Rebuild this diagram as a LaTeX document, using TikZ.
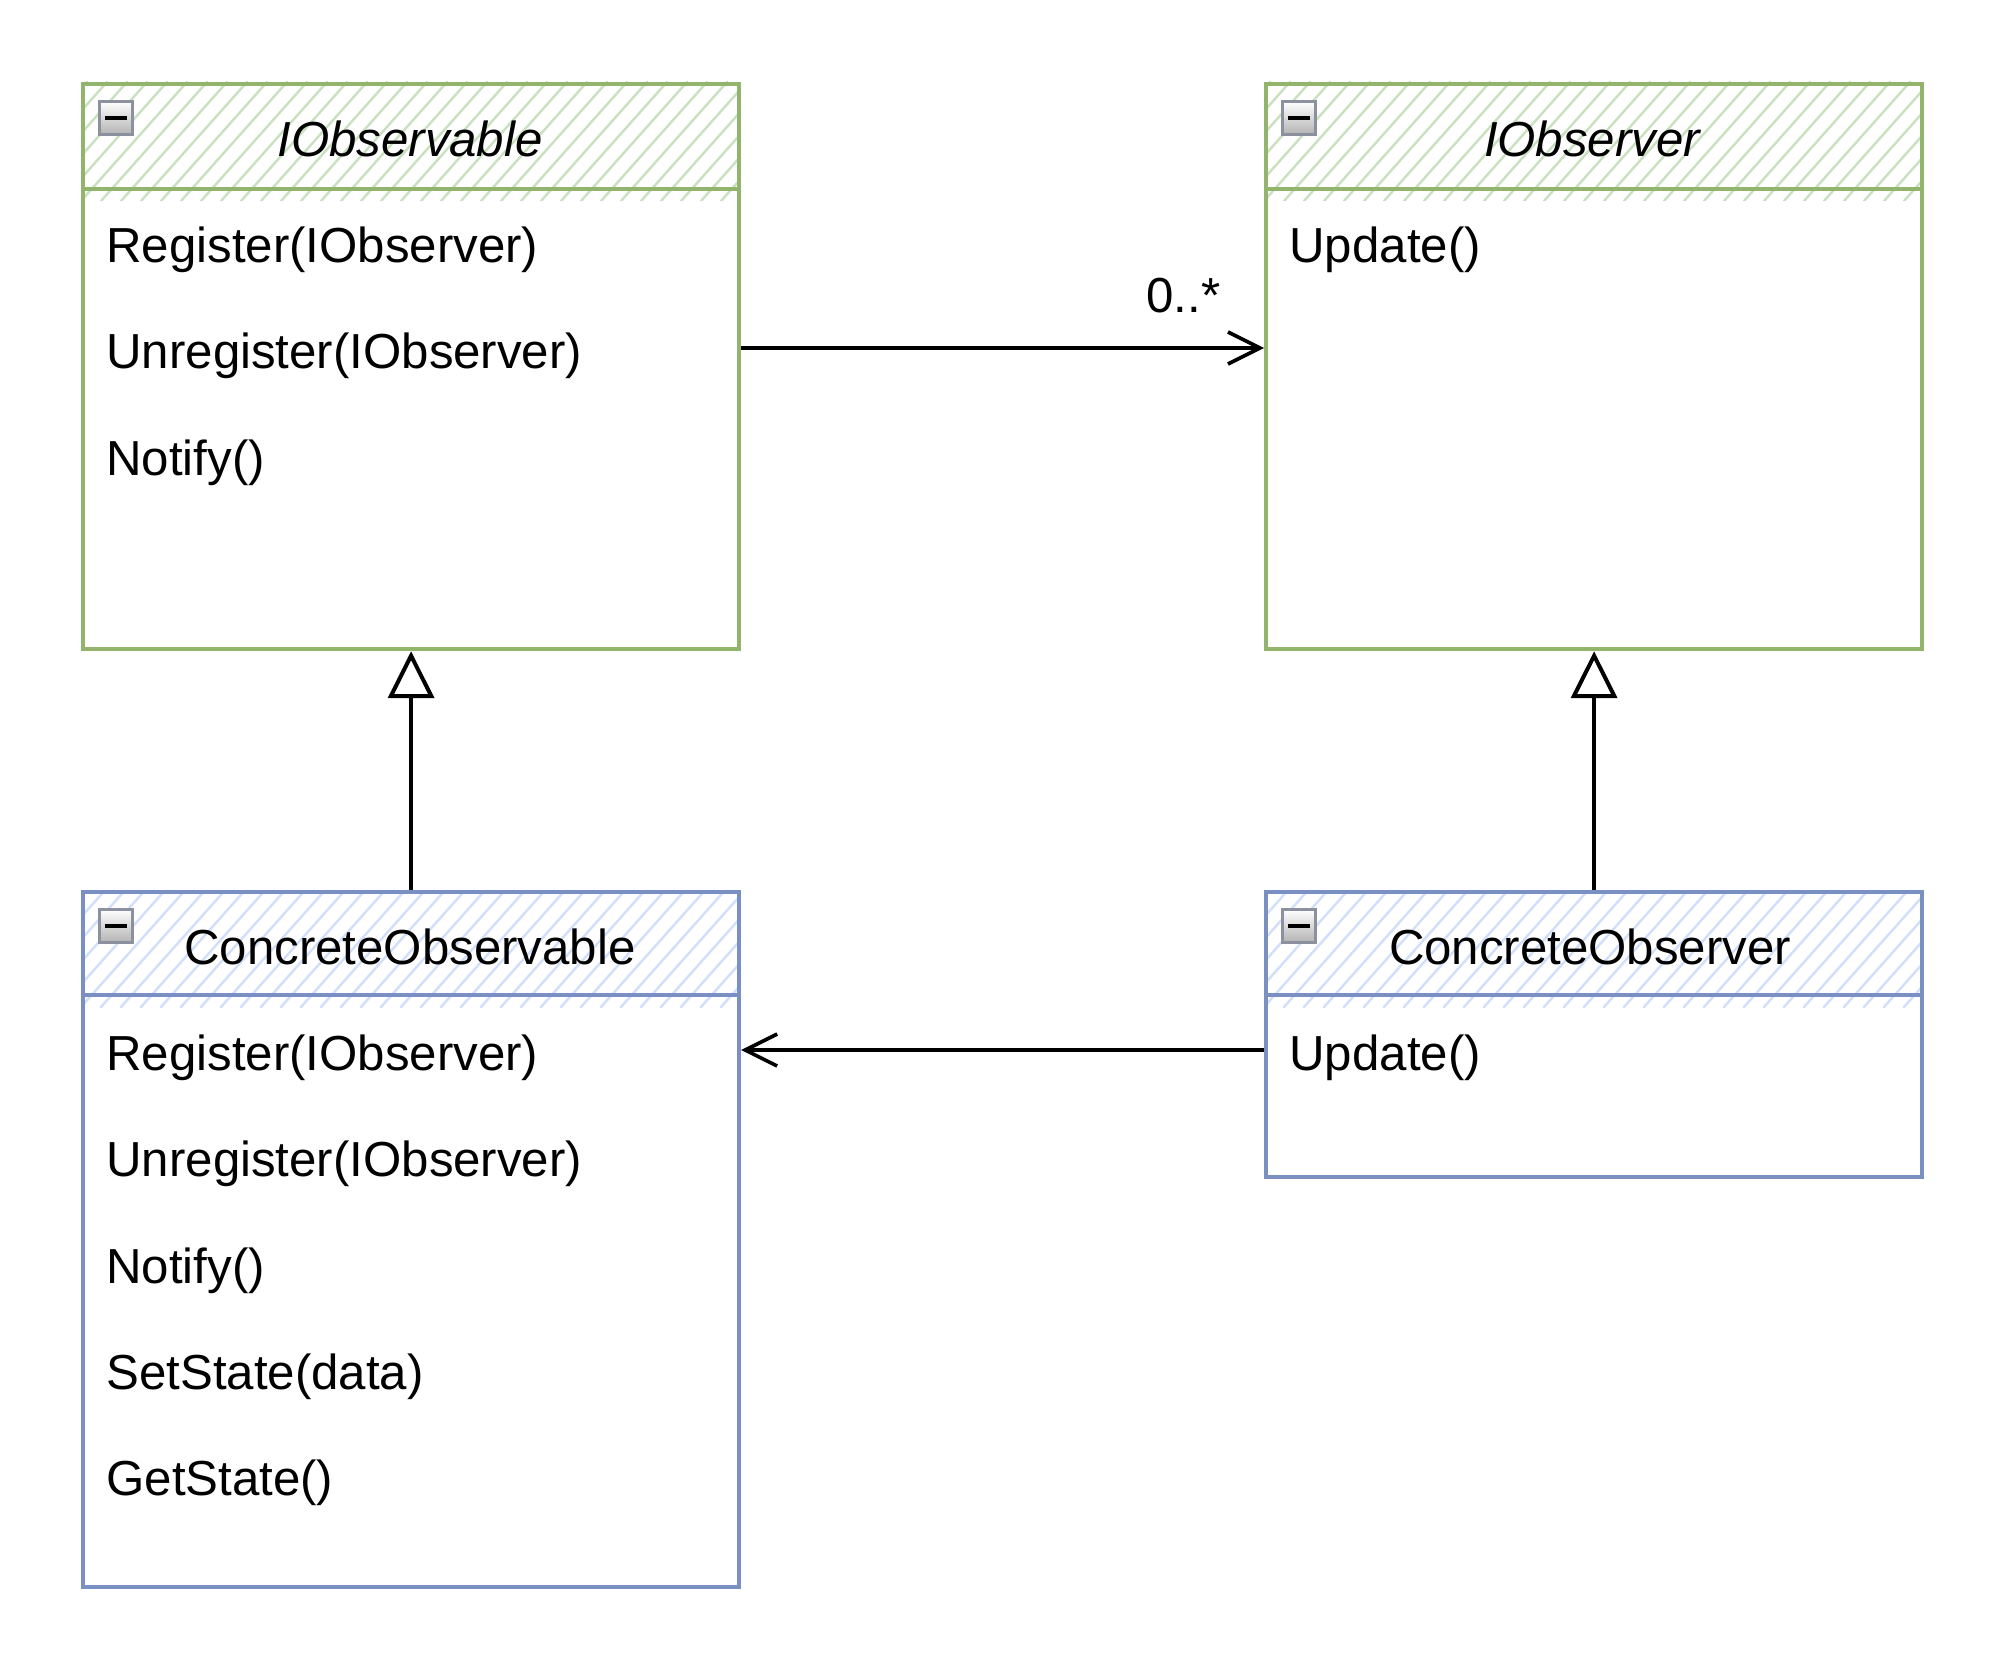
\documentclass[tikz,border=0pt]{standalone}
\usepackage{fontspec}
\setmainfont{Liberation Sans}
\usetikzlibrary{arrows.meta,calc}
\definecolor{gstroke}{RGB}{146,180,108}
\definecolor{ghatch}{RGB}{202,225,192}
\definecolor{bstroke}{RGB}{122,144,194}
\definecolor{bhatch}{RGB}{210,223,250}
\definecolor{iconborder}{RGB}{140,145,160}
\tikzset{
  classbox/.style={draw, line width=2.1pt, minimum width=328pt, inner sep=0pt, anchor=north west},
  member/.style={anchor=base west, inner sep=0pt, font=\fontsize{24.6}{29}\selectfont},
  title/.style={anchor=base, inner sep=0pt, font=\fontsize{24.6}{29}\selectfont},
  icon/.style={draw=iconborder, line width=1.8pt, top color=white, bottom color=black!30,
    minimum size=16.5pt, inner sep=0pt, font=\fontsize{10}{10}\selectfont},
  assoc/.style={line width=2.3pt, -{Straight Barb[length=16pt,width=16pt,line width=1.8pt]}},
  inherit/.style={line width=2.3pt, -{Triangle[open,length=23.5pt,width=23pt,line width=2pt,fill=white]}},
  hatchline/.style={line width=1.2pt, line cap=round},
  sepline/.style={line width=2.1pt},
}
\newcommand{\hatchhead}[5]{% x1 y1 x2 y2 color
  \begin{scope}
    \clip (#1,#2) rectangle (#3,#4+12);
    \foreach \hx in {-120,-100,...,700} {
      \draw[hatchline, #5] ({#1+\hx},#4+12) -- ++(106,-119);
    }
  \end{scope}
}
\begin{document}
\begin{tikzpicture}[x=0.5pt,y=-0.5pt]
\useasboundingbox (0,0) rectangle (2016,1674);
\fill[white] (0,0) rectangle (2016,1674);

% header hatches
\hatchhead{81}{82}{738}{189}{ghatch}
\hatchhead{1264}{82}{1920}{189}{ghatch}
\hatchhead{81}{890}{738}{995}{bhatch}
\hatchhead{1264}{890}{1920}{995}{bhatch}

% white body below header ticks already handled by clip; class boxes
\node[classbox, draw=gstroke, minimum height=282.5pt] (obs) at (81,82) {};
\node[classbox, draw=gstroke, minimum height=282.5pt] (obsr) at (1264,82) {};
\node[classbox, draw=bstroke, minimum height=347.5pt] (cobs) at (81,890) {};
\node[classbox, draw=bstroke, minimum height=142.5pt] (cobsr) at (1264,890) {};

% header separators
\draw[gstroke, sepline] (obs.west |- 0,189) -- (obs.east |- 0,189);
\draw[gstroke, sepline] (obsr.west |- 0,189) -- (obsr.east |- 0,189);
\draw[bstroke, sepline] (cobs.west |- 0,995) -- (cobs.east |- 0,995);
\draw[bstroke, sepline] (cobsr.west |- 0,995) -- (cobsr.east |- 0,995);

% collapse icons
\node[icon] (i1) at (116,118) {\rule{11pt}{2.4pt}};
\node[icon] (i2) at (1299,118) {\rule{11pt}{2.4pt}};
\node[icon] (i3) at (116,926) {\rule{11pt}{2.4pt}};
\node[icon] (i4) at (1299,926) {\rule{11pt}{2.4pt}};

% titles
\node[title] (t1) at (410,156.7) {\itshape IObservable};
\node[title] (t2) at (1592,156.7) {\itshape IObserver};
\node[title] (t3) at (410,964) {ConcreteObservable};
\node[title] (t4) at (1590,964) {ConcreteObserver};

% members
\node[member] (m1) at (106,262.7) {Register(IObserver)};
\node[member] (m2) at (106,368.3) {Unregister(IObserver)};
\node[member] (m3) at (106,475) {Notify()};
\node[member] (m4) at (1289,262.7) {Update()};

\node[member] (c1) at (106,1070) {Register(IObserver)};
\node[member] (c2) at (106,1176) {Unregister(IObserver)};
\node[member] (c3) at (106,1283) {Notify()};
\node[member] (c4) at (106,1389) {SetState(data)};
\node[member] (c5) at (106,1495) {GetState()};
\node[member] (d1) at (1289,1070) {Update()};

% connectors
\coordinate (a1) at (0,348);
\coordinate (a2) at (0,1050);
\draw[assoc] (obs.east |- a1) -- (obsr.west |- a1);
\node[member] (mult) at (1146,312.7) {0..*};
\draw[assoc] (cobsr.west |- a2) -- (cobs.east |- a2);
\draw[inherit] (cobs.north) -- (obs.south);
\draw[inherit] (cobsr.north) -- (obsr.south);
\end{tikzpicture}
\end{document}
